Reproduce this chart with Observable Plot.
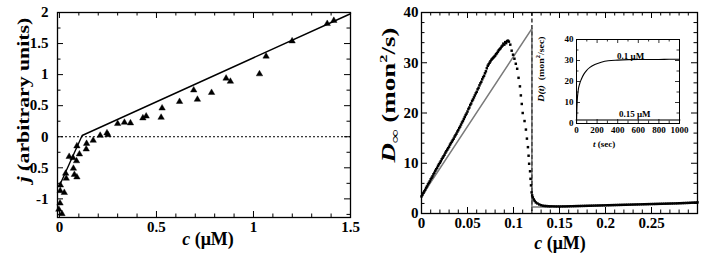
<!DOCTYPE html>
<html><head><meta charset="utf-8">
<script src="https://cdn.jsdelivr.net/npm/d3@7"></script>
<script src="https://cdn.jsdelivr.net/npm/@observablehq/plot@0.6"></script>
<style>
body{margin:0;background:#fff;}
#chart{position:relative;width:707px;height:259px;overflow:hidden;background:#fff;}
#chart svg{position:absolute;overflow:visible;}
</style></head><body><div id="chart"></div>
<script>
// ---------- Left panel: j vs c ----------
const jC   = [0.003,-0.003,0.013,0.004,0.005,0.025,0.035,0.032,0.05,0.07,0.072,0.077,0.09,0.088,0.09,0.103,0.14,0.138,0.174,0.21,0.245,0.25,0.30,0.335,0.366,0.43,0.447,0.524,0.529,0.619,0.692,0.711,0.784,0.859,0.881,1.031,1.065,1.199,1.38,1.414];
const jVal = [-1.07,-1.17,-1.24,-0.87,-0.78,-0.90,-0.67,-0.59,-0.32,-0.34,-0.51,-0.61,-0.65,-0.39,-0.15,-0.28,-0.11,-0.20,-0.06,0.02,0.06,0.03,0.21,0.23,0.22,0.30,0.33,0.31,0.46,0.565,0.75,0.60,0.71,0.94,0.89,1.01,1.295,1.54,1.82,1.87];
const jFitC   = [0, 0.117, 1.5];
const jFitVal = [-0.79, 0.02, 1.98];
const jXTicks = [0, 0.5, 1, 1.5];
const jYTicks = [-1, -0.5, 0, 0.5, 1, 1.5, 2];

// ---------- Right panel: D_inf vs c ----------
const dRiseStart = 0, dRiseStep = 0.001;
const dRise = [3.4,3.7,4.1,4.4,4.7,5.1,5.4,5.8,6.1,6.4,
 6.8,7.1,7.4,7.8,8.1,8.5,8.8,9.1,9.5,9.8,
 10.1,10.4,10.8,11.1,11.4,11.7,12.1,12.4,12.7,13.0,
 13.3,13.7,14.0,14.3,14.6,14.9,15.3,15.6,15.9,16.3,
 16.6,17.0,17.3,17.7,18.1,18.4,18.8,19.2,19.6,19.9,
 20.3,20.8,21.1,21.6,21.9,22.4,22.7,23.1,23.5,23.9,
 24.2,24.7,25.0,25.5,25.9,26.2,26.7,27.1,27.4,27.9,
 28.3,28.9,29.4,29.7,30.0,30.3,30.6,30.8,31.0,31.2,
 31.4,31.7,31.9,32.2,32.5,32.7,32.9,33.2,33.4,33.8,
 33.6,34.1,33.9,34.3,34.4,34.2];
const cFall = [0.0965,0.098,0.0995,0.101,0.1025,0.104,0.1055,0.107,0.108,0.109,0.110,0.112,0.1135,0.1146,0.1157,0.1164,0.117,0.118,0.1185,0.119,0.1197,0.1203,0.121,0.122,0.123,0.1243,0.126,0.128,0.130,0.132,0.134];
const dFall = [33.6,32.4,31.6,30.8,29.8,28.8,27.0,25.3,23.5,21.8,20.0,18.4,16.7,14.9,13.2,11.5,9.9,8.4,6.9,5.6,4.2,3.6,3.2,2.8,2.5,2.2,2.0,1.8,1.65,1.55,1.5];
const dFlatStart = 0.136, dFlatStep = 0.002;
const dFlat = [1.48,1.45,1.43,1.42,1.41,1.40,1.40,1.40,1.40,1.41,
 1.41,1.42,1.43,1.44,1.45,1.46,1.47,1.48,1.49,1.50,
 1.51,1.52,1.53,1.54,1.55,1.56,1.57,1.58,1.59,1.60,
 1.61,1.62,1.63,1.64,1.65,1.66,1.67,1.68,1.69,1.70,
 1.71,1.72,1.73,1.74,1.75,1.76,1.77,1.78,1.79,1.80,
 1.81,1.82,1.83,1.84,1.85,1.86,1.87,1.88,1.89,1.90,
 1.91,1.92,1.93,1.94,1.95,1.96,1.97,1.98,1.99,2.00,
 2.01,2.02,2.04,2.05,2.07,2.08,2.10,2.11,2.13,2.15,
 2.17,2.19,2.21];
const dTheoryC = [0, 0.12, 0.12, 0.14];
const dTheoryD = [3.4, 36.8, 1.3, 1.3];
const cCritical = 0.12;
const dXTicks = [0, 0.05, 0.1, 0.15, 0.2, 0.25, 0.3];
const dXLabels = ["0", "0.05", "0.1", "0.15", "0.2", "0.25", ""];
const dYTicks = [0, 10, 20, 30, 40];

// ---------- Inset: D(t) vs t ----------
const tIn  = [0, 3, 7, 16, 30, 48, 70, 97, 130, 178, 240, 307, 400, 500, 600, 700, 800, 900, 1000];
const dIn  = [0, 6, 10.8, 15.6, 18.8, 21.2, 23.4, 25.2, 26.7, 28.1, 29.2, 29.9, 30.2, 30.4, 30.5, 30.5, 30.5, 30.6, 30.6];
const tIn2 = [0, 1000];
const dIn2 = [1.7, 1.7];
const insetLabels = ["0.1 μM", "0.15 μM"];
const insetLabelT = [525, 565];
const insetLabelD = [32.3, 4.4];
const inXTicks = [0, 200, 400, 600, 800, 1000];
const inYTicks = [0, 10, 20, 30, 40];

// ---------- helpers ----------
const FONT = '"Liberation Serif", "Times New Roman", serif';
const chart = document.getElementById("chart");
const zip = (a, b) => a.map((v, i) => ({x: v, y: b[i]}));
function minor(lo, hi, step, majors) {
  return d3.range(Math.round((hi - lo) / step) + 1).map(i => +(lo + i * step).toFixed(6)).filter(v => !majors.some(m => Math.abs(m - v) < 1e-9));
}
function tickMarks(xMaj, xMin, yMaj, yMin, fw, fh, maj, mn, sw) {
  const o = {stroke: "black", strokeWidth: sw};
  return [
    Plot.tickX(xMaj, {x: d => d, insetTop: fh - maj, ...o}),
    Plot.tickX(xMaj, {x: d => d, insetBottom: fh - maj, ...o}),
    Plot.tickX(xMin, {x: d => d, insetTop: fh - mn, ...o}),
    Plot.tickX(xMin, {x: d => d, insetBottom: fh - mn, ...o}),
    Plot.tickY(yMaj, {y: d => d, insetRight: fw - maj, ...o}),
    Plot.tickY(yMaj, {y: d => d, insetLeft: fw - maj, ...o}),
    Plot.tickY(yMin, {y: d => d, insetRight: fw - mn, ...o}),
    Plot.tickY(yMin, {y: d => d, insetLeft: fw - mn, ...o})
  ];
}
function place(svg, left, top) {
  svg.style.left = left + "px"; svg.style.top = top + "px";
  chart.appendChild(svg);
  return svg;
}
function label(svg, x, y, rot, parts, size, sx = 1) {
  const t = d3.select(svg).append("text")
    .attr("transform", `translate(${x},${y}) rotate(${rot}) scale(${sx},1)`)
    .attr("text-anchor", "middle").attr("font-family", FONT)
    .attr("font-size", size).attr("font-weight", "bold").attr("fill", "black");
  for (const p of parts) {
    const s = t.append("tspan").text(p.t);
    if (p.i) s.attr("font-style", "italic");
    if (p.s) s.attr("font-size", size * p.s);
    if (p.dy) s.attr("dy", p.dy);
  }
}

// ---------- Left panel ----------
{
  const W = 360, H = 259, mL = 57, mR = 10, mT = 12, mB = 42;
  const fw = W - mL - mR, fh = H - mT - mB;
  const svg = Plot.plot({
    width: W, height: H, marginLeft: mL, marginRight: mR, marginTop: mT, marginBottom: mB,
    x: {domain: [-0.01, 1.5]}, y: {domain: [-1.3, 2]},
    style: {fontFamily: FONT, fontSize: "15px", fontWeight: "bold", background: "transparent", color: "black"},
    marks: [
      Plot.ruleY([0], {stroke: "black", strokeWidth: 1, strokeDasharray: "2,2"}),
      Plot.line(zip(jFitC, jFitVal), {x: "x", y: "y", stroke: "black", strokeWidth: 1.4}),
      Plot.dot(zip(jC, jVal), {x: "x", y: "y", symbol: "triangle", r: 2.4, fill: "black", stroke: "black", strokeWidth: 0.4}),
      ...tickMarks(jXTicks, minor(0, 1.5, 0.1, jXTicks), jYTicks, minor(-1.25, 1.75, 0.5, []), fw, fh, 6, 3.5, 1),
      Plot.frame({stroke: "black", strokeWidth: 1.3}),
      Plot.axisX(jXTicks, {tickSize: 0, tickPadding: 4, label: null, tickFormat: d => String(d), fontSize: 15}),
      Plot.axisY(jYTicks, {tickSize: 0, tickPadding: 9, label: null, tickFormat: d => String(d), fontSize: 15})
    ]
  });
  place(svg, 0, 0);
  label(svg, 29, 100, -90, [{t: "j", i: true}, {t: " (arbitrary units)"}], 17, 1.28);
  label(svg, 208, 245, 0, [{t: "c", i: true}, {t: " (μM)"}], 18);
}

// ---------- Right panel ----------
{
  const W = 347, H = 259, mL = 61, mR = 10, mT = 12, mB = 46;
  const fw = W - mL - mR, fh = H - mT - mB;
  const rise = dRise.map((v, i) => ({x: dRiseStart + i * dRiseStep, y: v}));
  const fall = zip(cFall, dFall);
  const flat = dFlat.map((v, i) => ({x: dFlatStart + i * dFlatStep, y: v}));
  const svg = Plot.plot({
    width: W, height: H, marginLeft: mL, marginRight: mR, marginTop: mT, marginBottom: mB,
    x: {domain: [0, 0.3]}, y: {domain: [0, 40]},
    style: {fontFamily: FONT, fontSize: "15px", fontWeight: "bold", background: "transparent", color: "black"},
    marks: [
      Plot.line(zip(dTheoryC, dTheoryD), {x: "x", y: "y", stroke: "#7a7a7a", strokeWidth: 1.6}),
      Plot.ruleX([cCritical], {stroke: "#555", strokeWidth: 1.8, strokeDasharray: "4,2.5"}),
      Plot.dot([...rise, ...fall, ...flat], {x: "x", y: "y", symbol: "square", r: 1.4, fill: "black"}),
      ...tickMarks(dXTicks, minor(0, 0.3, 0.01, dXTicks), dYTicks, minor(0, 40, 2, dYTicks), fw, fh, 6, 3.5, 1),
      Plot.frame({stroke: "black", strokeWidth: 1.3}),
      Plot.axisX(dXTicks, {tickSize: 0, tickPadding: 4, label: null, tickFormat: (d, i) => dXLabels[i], fontSize: 15}),
      Plot.axisY(dYTicks, {tickSize: 0, tickPadding: 3, label: null, tickFormat: d => String(d), fontSize: 15})
    ]
  });
  place(svg, 360, 0);
  label(svg, 35, 95, -90, [{t: "D", i: true}, {t: "∞", s: 0.7, dy: 4}, {t: " (mon", dy: -4}, {t: "2", s: 0.6, dy: -8}, {t: "/s)", dy: 8}], 18, 1.5);
  label(svg, 200, 249, 0, [{t: "c", i: true}, {t: " (μM)"}], 18);
}

// ---------- Inset ----------
{
  const W = 160, H = 130, mL = 46, mR = 11, mT = 9, mB = 37;
  const fw = W - mL - mR, fh = H - mT - mB;
  const svg = Plot.plot({
    width: W, height: H, marginLeft: mL, marginRight: mR, marginTop: mT, marginBottom: mB,
    x: {domain: [0, 1000]}, y: {domain: [0, 40]},
    style: {fontFamily: FONT, fontSize: "9px", fontWeight: "bold", background: "transparent", color: "black"},
    marks: [
      Plot.line(zip(tIn2, dIn2), {x: "x", y: "y", stroke: "#777", strokeWidth: 2}),
      Plot.line(zip(tIn, dIn), {x: "x", y: "y", stroke: "black", strokeWidth: 1.1, curve: "monotone-x"}),
      Plot.text(insetLabels.map((s, i) => ({x: insetLabelT[i], y: insetLabelD[i], s})), {x: "x", y: "y", text: "s", fontSize: 9, fontWeight: "bold", fill: "black"}),
      ...tickMarks(inXTicks, minor(0, 1000, 100, inXTicks), inYTicks, minor(0, 40, 5, inYTicks), fw, fh, 4, 2.5, 0.8),
      Plot.frame({stroke: "black", strokeWidth: 1}),
      Plot.axisX(inXTicks, {tickSize: 0, tickPadding: 3, label: null, tickFormat: d => String(d), fontSize: 9}),
      Plot.axisY(inYTicks, {tickSize: 0, tickPadding: 3, label: null, tickFormat: d => String(d), fontSize: 9})
    ]
  });
  place(svg, 530, 30);
  label(svg, 14, 39, -90, [{t: "D(t)", i: true}, {t: "  (mon"}, {t: "2", s: 0.65, dy: -4}, {t: "/sec)", dy: 4}], 9, 1.1);
  label(svg, 74, 117, 0, [{t: "t", i: true}, {t: " (sec)"}], 9);
}
</script></body></html>
